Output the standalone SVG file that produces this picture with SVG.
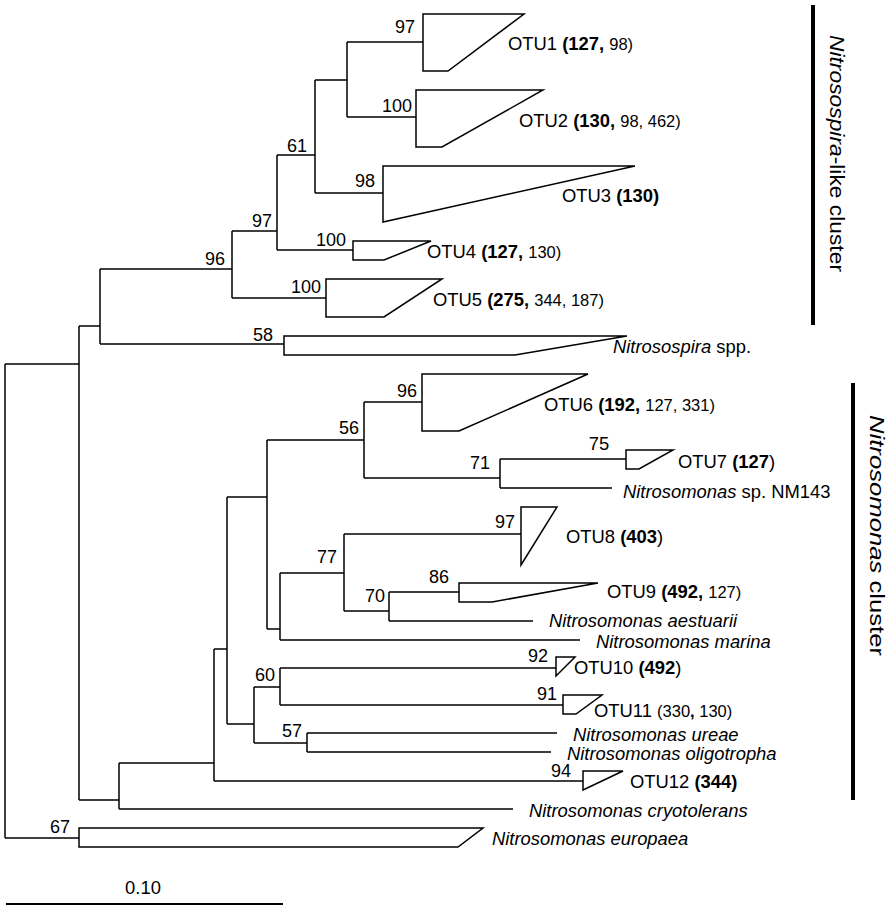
<svg xmlns="http://www.w3.org/2000/svg" width="892" height="910" viewBox="0 0 892 910">
<style>
text{font-family:"Liberation Sans",Arial,sans-serif;font-size:18.4px;fill:#000}
.bs{text-anchor:end;font-size:18px}
.b{font-weight:bold}
.s{font-size:16.5px}
.i{font-style:italic}
.cn{font-size:20px}
.br{fill:none;stroke:#000;stroke-width:1.5}
.cl{fill:#fff;stroke:#000;stroke-width:1.5;stroke-linejoin:miter}
</style>
<rect width="892" height="910" fill="#fff"/>
<g id="connectors" class="br">
<path d="M5,364V838M5,364H79M5,838H79"/>
<path d="M79,326V800M79,326H100M79,800H119"/>
<path d="M100,269V344M100,269H232M100,344H284"/>
<path d="M232,231V298M232,231H277M232,298H326"/>
<path d="M277,155V250M277,155H315M277,250H353"/>
<path d="M315,80V193M315,80H347M315,193H383"/>
<path d="M347,42V117M347,42H423M347,117H416"/>
<path d="M119,763V809M119,763H214M119,809H513"/>
<path d="M214,649V781M214,649H227M214,781H583"/>
<path d="M227,497V724M227,497H267M227,724H254"/>
<path d="M267,440V629M267,440H364M267,629H280"/>
<path d="M364,402V478M364,402H422M364,478H500"/>
<path d="M500,459V488M500,459H626M500,488H612"/>
<path d="M280,573V640M280,573H344M280,640H580"/>
<path d="M344,534V611M344,534H521M344,611H389"/>
<path d="M389,592V621M389,592H459M389,621H533"/>
<path d="M254,687V743M254,687H280M254,743H307"/>
<path d="M280,668V705M280,668H556M280,705H563"/>
<path d="M307,733V752M307,733H557M307,752H551"/>
</g>
<g id="otu1"><polygon class="cl" points="423,14 524,14 448,71 423,71"/><text class="bs" x="415" y="33">97</text><text x="508" y="50">OTU1 <tspan class="b">(127,</tspan> <tspan class="s">98)</tspan></text></g>
<g id="otu2"><polygon class="cl" points="416,90 543,90 442,147 416,147"/><text class="bs" x="412" y="112">100</text><text x="519" y="127">OTU2  <tspan class="b">(130,</tspan> <tspan class="s">98, 462)</tspan></text></g>
<g id="node61"><text class="bs" x="307" y="152">61</text></g>
<g id="otu3"><polygon class="cl" points="383,166 635,166 383,222"/><text class="bs" x="375" y="187">98</text><text x="562" y="202">OTU3 <tspan class="b">(130)</tspan></text></g>
<g id="node97"><text class="bs" x="272" y="227">97</text></g>
<g id="otu4"><polygon class="cl" points="353,241 431,241 384,260 353,260"/><text class="bs" x="346" y="246">100</text><text x="427" y="258">OTU4 <tspan class="b">(127,</tspan> <tspan class="s">130)</tspan></text></g>
<g id="node96"><text class="bs" x="225" y="265">96</text></g>
<g id="otu5"><polygon class="cl" points="326,279 442,279 384,317 326,317"/><text class="bs" x="321" y="293">100</text><text x="433" y="306">OTU5  <tspan class="b">(275,</tspan> <tspan class="s">344, 187)</tspan></text></g>
<g id="nitrosospira"><polygon class="cl" points="284,336 627,336 515,355 284,355"/><text class="bs" x="273" y="341">58</text><text x="613" y="353"><tspan class="i">Nitrosospira</tspan> spp.</text></g>
<g id="node56"><text class="bs" x="359" y="434">56</text></g>
<g id="otu6"><polygon class="cl" points="422,374 588,374 459,431 422,431"/><text class="bs" x="417" y="397">96</text><text x="544" y="411">OTU6 <tspan class="b">(192,</tspan> <tspan class="s">127, 331)</tspan></text></g>
<g id="node71"><text class="bs" x="490" y="469">71</text></g>
<g id="otu7"><polygon class="cl" points="626,450 673,450 639,469 626,469"/><text x="599" y="450" text-anchor="middle" font-size="18">75</text><text x="678" y="468">OTU7 <tspan class="b">(127</tspan>)</text></g>
<g id="nm143"><text x="623" y="498"><tspan class="i">Nitrosomonas</tspan> sp. NM143</text></g>
<g id="otu8"><polygon class="cl" points="521,507 557,507 521,565"/><text class="bs" x="515" y="528">97</text><text x="566" y="543">OTU8 <tspan class="b">(403</tspan>)</text></g>
<g id="node77"><text class="bs" x="337" y="563">77</text></g>
<g id="otu9"><polygon class="cl" points="459,583 598,583 492,602 459,602"/><text class="bs" x="449" y="583">86</text><text x="607" y="598">OTU9 <tspan class="b">(492,</tspan> <tspan class="s">127)</tspan></text></g>
<g id="node70"><text class="bs" x="385" y="602">70</text></g>
<g id="aestuarii"><text class="i" x="549" y="627">Nitrosomonas aestuarii</text></g>
<g id="marina"><text class="i" x="596" y="648">Nitrosomonas marina</text></g>
<g id="node60"><text class="bs" x="275" y="681">60</text></g>
<g id="otu10"><polygon class="cl" points="556,657 575,657 556,676"/><text class="bs" x="548" y="662">92</text><text x="574" y="674">OTU10 <tspan class="b">(492</tspan>)</text></g>
<g id="otu11"><polygon class="cl" points="563,695 602,695 576,714 563,714"/><text class="bs" x="557" y="700">91</text><text x="594" y="717">OTU11 <tspan class="s">(330<tspan class="b">,</tspan> 130)</tspan></text></g>
<g id="node57"><text class="bs" x="302" y="737">57</text></g>
<g id="ureae"><text class="i" x="573" y="741">Nitrosomonas ureae</text></g>
<g id="oligotropha"><text class="i" x="567" y="760">Nitrosomonas oligotropha</text></g>
<g id="otu12"><polygon class="cl" points="583,771 623,771 583,790"/><text class="bs" x="571" y="777">94</text><text x="630" y="788">OTU12 <tspan class="b">(344)</tspan></text></g>
<g id="cryotolerans"><text class="i" x="529" y="817">Nitrosomonas cryotolerans</text></g>
<g id="europaea"><polygon class="cl" points="79,828 483,828 458,847 79,847"/><text class="bs" x="70" y="833">67</text><text class="i" x="492" y="845">Nitrosomonas europaea</text></g>
<g id="cluster-nitrosospira"><rect x="811" y="5" width="4" height="320" fill="#000"/><text class="cn" transform="translate(830,35) rotate(90)" textLength="237" lengthAdjust="spacingAndGlyphs"><tspan class="i">Nitrosospira</tspan>-like cluster</text></g>
<g id="cluster-nitrosomonas"><rect x="851" y="383" width="4" height="417" fill="#000"/><text class="cn" transform="translate(870,415) rotate(90)" textLength="241" lengthAdjust="spacingAndGlyphs"><tspan class="i">Nitrosomonas</tspan> cluster</text></g>
<g id="scalebar"><line x1="6" y1="904" x2="283" y2="904" stroke="#000" stroke-width="2"/><text x="143" y="894" text-anchor="middle" font-size="18">0.10</text></g>
</svg>
